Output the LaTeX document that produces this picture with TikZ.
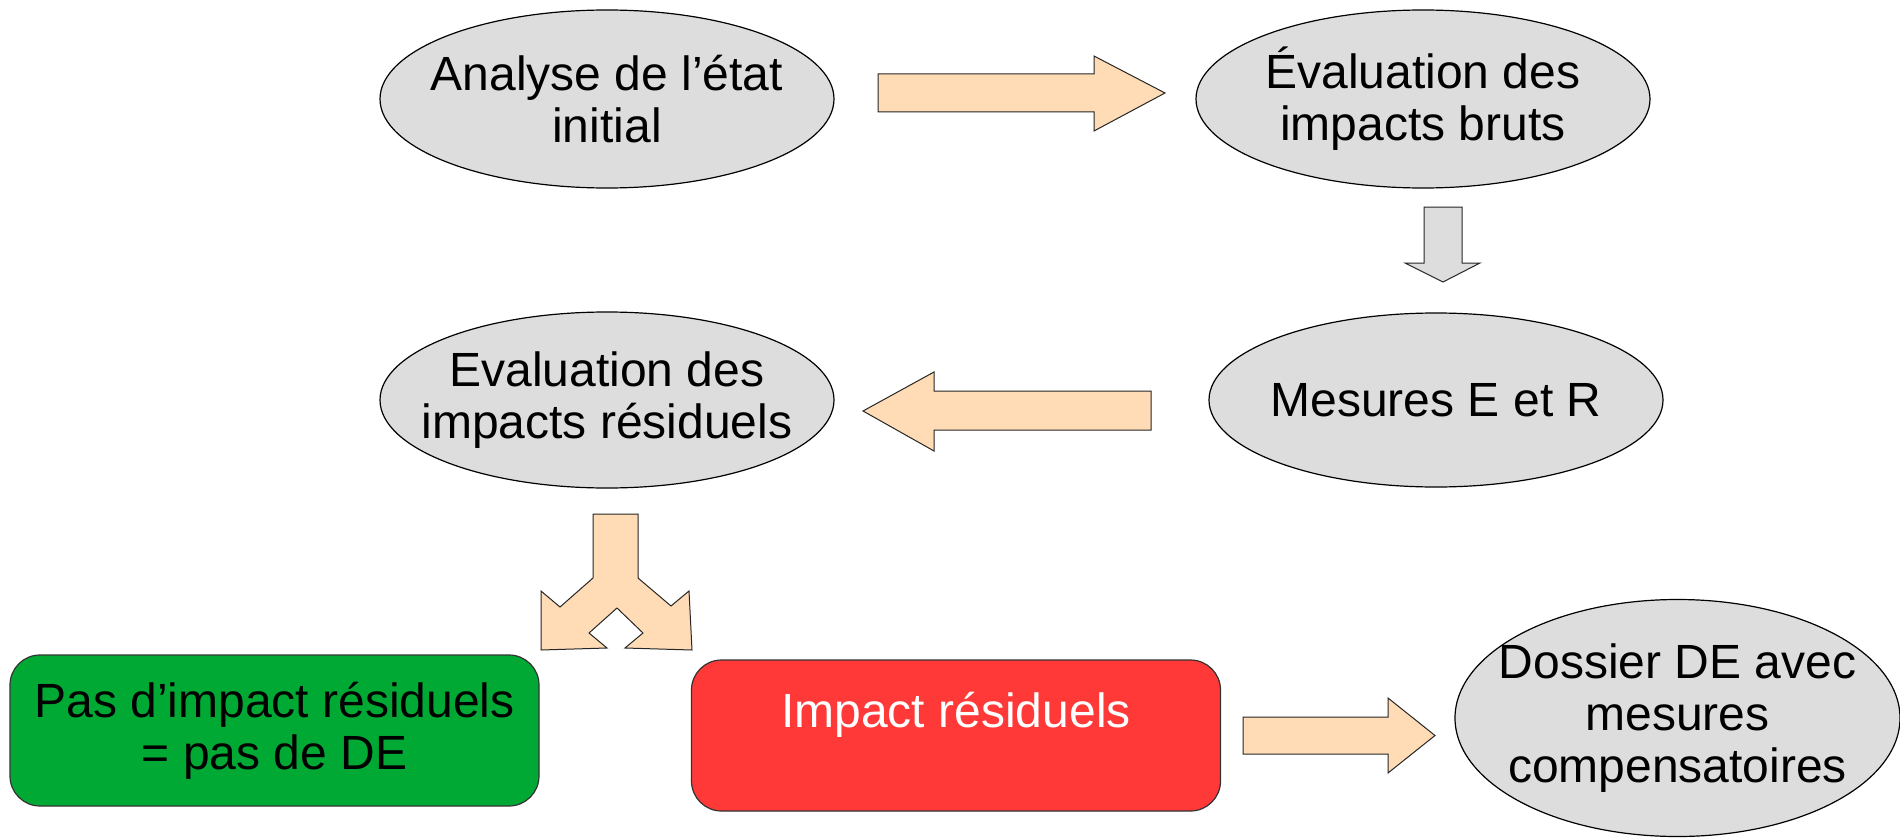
\documentclass[tikz,border=0pt]{standalone}
\usepackage{fontspec}
\setmainfont{Liberation Sans}
\usepackage{tikz}
\usetikzlibrary{shapes.geometric}

\definecolor{ellgray}{HTML}{DDDDDD}
\definecolor{arrowtan}{HTML}{FFDBB6}
\definecolor{boxgreen}{HTML}{00A933}
\definecolor{boxred}{HTML}{FF3838}

\begin{document}
\begin{tikzpicture}[
    x=0.5pt, y=-0.5pt,
    etape/.style={ellipse, draw, fill=ellgray, line width=0.6pt,
        inner xsep=-40pt, inner ysep=0pt,
        minimum width=227pt, minimum height=89pt, align=center,
        font=\fontsize{24}{26}\selectfont},
    issue/.style={rectangle, rounded corners=15pt, draw=black!80, line width=0.6pt,
        minimum width=264.5pt, minimum height=75.5pt, inner sep=0pt, align=center,
        font=\fontsize{24}{26}\selectfont},
    fleche/.style={draw=black!85, line width=0.5pt, fill=arrowtan, line join=miter}
]
    \useasboundingbox (0,0) rectangle (1900,840);

    % Etapes
    \node[etape] (etat) at (607,99) {Analyse de l’état\\initial};
    \node[etape] (bruts) at (1423,99) {Évaluation des\\impacts bruts};
    \node[etape, minimum height=87pt] (mesures) at (1436,400) {Mesures E et R};
    \node[etape, minimum height=88pt] (residuels) at (607,400) {Evaluation des\\impacts résiduels};

    % Issues
    \node[issue, fill=boxgreen] (sansde) at (274.5,730.5) {Pas d’impact résiduels\\= pas de DE};
    \node[issue, fill=boxred, text=white] (impact) at (956,735.5) {Impact résiduels\\[0pt]\mbox{}};
    \node[etape, minimum width=222.5pt, minimum height=118.5pt] (dossier) at (1677.5,718)
        {Dossier DE avec\\mesures\\compensatoires};

    % Fleches
    \draw[fleche] (878,74) -- (1094,74) -- (1094,56) -- (1165,93)
        -- (1094,131) -- (1094,112) -- (878,112) -- cycle;
    \draw[fleche, fill=ellgray] (1424,207) -- (1462,207) -- (1462,263) -- (1480,263)
        -- (1443,282) -- (1405,263) -- (1424,263) -- cycle;
    \draw[fleche] (1151,391) -- (934,391) -- (934,372) -- (863,411)
        -- (934,451) -- (934,430) -- (1151,430) -- cycle;
    \draw[fleche] (593,514) -- (638,514) -- (638,578) -- (671,606) -- (689,591)
        -- (692,650) -- (625,648) -- (643,633) -- (617,608) -- (589,633)
        -- (607,648) -- (541,650) -- (541,591) -- (560,607) -- (593,578) -- cycle;
    \draw[fleche] (1243,717) -- (1388,717) -- (1388,698) -- (1435,735.5)
        -- (1388,773) -- (1388,754) -- (1243,754) -- cycle;
\end{tikzpicture}
\end{document}
